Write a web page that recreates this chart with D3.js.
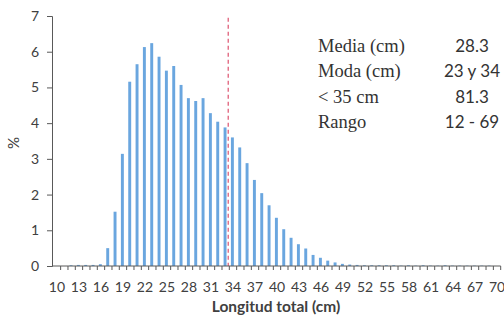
<!DOCTYPE html>
<html>
<head>
<meta charset="utf-8">
<script src="https://cdn.jsdelivr.net/npm/d3@7"></script>
<style>
body { margin: 0; background: #fff; }
svg text { fill: #404040; }
.tick-label { font-family: Lato, "Liberation Sans", sans-serif; font-size: 14px; }
.stat-label { font-family: "Liberation Serif", serif; font-size: 18.5px; fill: #333; }
.stat-value { font-family: Lato, "Liberation Sans", sans-serif; font-size: 17px; fill: #333; }
</style>
</head>
<body>
<script>
var width = 504;
var height = 317;

// longitud total (cm) y porcentaje
var lengths = d3.range(10, 71);
var percents = [0, 0, 0.02, 0.03, 0.03, 0.03, 0.05, 0.5, 1.52, 3.14,
	5.16, 5.65, 6.13, 6.24, 5.86, 5.47, 5.6, 5.07, 4.7, 4.62,
	4.7, 4.28, 4.04, 3.88, 3.6, 3.32, 2.88, 2.41, 2.04, 1.7,
	1.35, 1.03, 0.79, 0.61, 0.49, 0.31, 0.23, 0.15, 0.1, 0.06,
	0.04, 0.03, 0.02, 0.02, 0.02, 0.02, 0.02, 0.01, 0.02, 0.01,
	0.02, 0.01, 0.01, 0.02, 0.01, 0.01, 0.01, 0.01, 0.01, 0.01, 0];
var xTickLabels = d3.range(10, 71, 3);
var yTicks = [0, 1, 2, 3, 4, 5, 6, 7];
var cutoff = 33.35; // linea discontinua
var statLabels = ["Media (cm)", "Moda (cm)", "< 35 cm", "Rango"];
var statValues = ["28.3", "23 y 34", "81.3", "12 - 69"];

var margin = {left: 52, right: 3, top: 16, bottom: 51};

var canvas = d3.select("body")
	.append("svg")
	.attr("width", width)
	.attr("height", height);

var x = d3.scaleBand()
	.domain(lengths)
	.range([margin.left + 1.3, width - margin.right - 0.3])
	.paddingInner(0.6)
	.paddingOuter(0.3);

var step = x.step();
var xLin = d3.scaleLinear()
	.domain([10, 70])
	.range([x(10) + x.bandwidth() / 2, x(70) + x.bandwidth() / 2]);

var y = d3.scaleLinear()
	.domain([0, 7])
	.range([height - margin.bottom, margin.top]);

var axisColor = "#595959";

// bars
canvas.selectAll("rect.bar")
	.data(percents)
	.enter()
		.append("rect")
		.classed("bar", true)
		.attr("x", function(d, i){ return x(lengths[i]) - 0.6; })
		.attr("width", x.bandwidth())
		.attr("y", function(d){ return y(d); })
		.attr("height", function(d){ return y(0) - y(d); })
		.attr("fill", "#6aa6df");

// dashed line
canvas.append("line")
	.attr("x1", xLin(cutoff)).attr("x2", xLin(cutoff))
	.attr("y1", y(6.95)).attr("y2", y(0))
	.attr("stroke", "#e0607a")
	.attr("stroke-width", 1.3)
	.attr("stroke-dasharray", "4,3");

// y axis
var yAxis = canvas.append("g")
	.attr("transform", "translate(" + margin.left + ",0)")
	.call(d3.axisLeft(y).tickValues(yTicks).tickSize(5).tickPadding(8).tickFormat(d3.format("d")));
yAxis.select(".domain").attr("stroke", axisColor);
yAxis.selectAll(".tick line").attr("stroke", axisColor);
yAxis.selectAll("text").attr("class", "tick-label").attr("fill", "#404040");

// x axis: ticks between categories
var xAxisG = canvas.append("g")
	.attr("transform", "translate(0," + y(0) + ")");
xAxisG.append("line")
	.attr("x1", margin.left).attr("x2", x(70) + x.bandwidth() + step * 0.3)
	.attr("stroke", axisColor);
xAxisG.selectAll("line.tk")
	.data(lengths)
	.enter()
		.append("line")
		.classed("tk", true)
		.attr("x1", function(d){ return xLin(d) + step / 2; })
		.attr("x2", function(d){ return xLin(d) + step / 2; })
		.attr("y1", 0).attr("y2", 4)
		.attr("stroke", axisColor);
xAxisG.selectAll("text")
	.data(xTickLabels)
	.enter()
		.append("text")
		.attr("class", "tick-label")
		.attr("x", function(d){ return xLin(d); })
		.attr("y", 25.5)
		.attr("text-anchor", "middle")
		.text(function(d){ return d; });

// axis titles
canvas.append("text")
	.attr("x", 276).attr("y", 312)
	.attr("text-anchor", "middle")
	.style("font-family", "Lato, sans-serif")
	.style("font-weight", "bold")
	.style("font-size", "15.5px")
	.text("Longitud total (cm)");

canvas.append("text")
	.attr("transform", "translate(19,143) rotate(-90)")
	.attr("text-anchor", "middle")
	.style("font-family", "Lato, sans-serif")
	.style("font-size", "15px")
	.text("%");

// stats box
for (i = 0; i < statLabels.length; i++){
	canvas.append("text")
		.attr("class", "stat-label")
		.attr("x", 318).attr("y", 52 + i * 25.3)
		.text(statLabels[i]);
	canvas.append("text")
		.attr("class", "stat-value")
		.attr("x", 472).attr("y", 52 + i * 25.3)
		.attr("text-anchor", "middle")
		.text(statValues[i]);
}
</script>
</body>
</html>
